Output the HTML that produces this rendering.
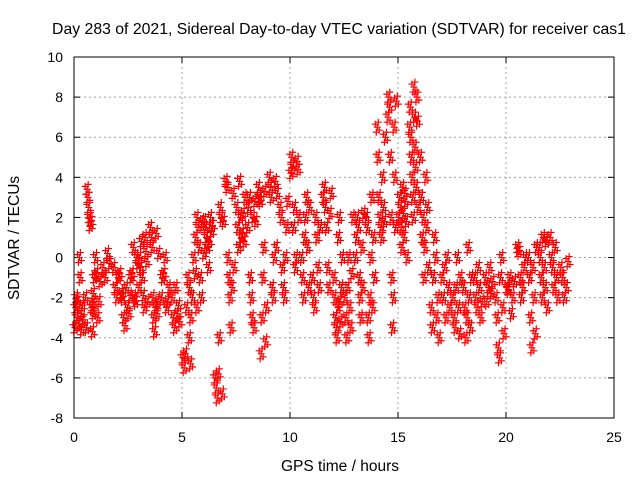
<!DOCTYPE html>
<html><head><meta charset="utf-8"><style>
body{margin:0;background:#fff;}
svg{display:block;font-family:"Liberation Sans",sans-serif;}
</style></head><body>
<svg id="chart" width="640" height="480" viewBox="0 0 640 480">
<rect width="640" height="480" fill="#fff"/>
<text x="339" y="34" font-size="15.8" text-anchor="middle">Day 283 of 2021, Sidereal Day-to-day VTEC variation (SDTVAR) for receiver cas1</text>
<text transform="translate(19,238) rotate(-90)" font-size="15.5" text-anchor="middle">SDTVAR / TECUs</text>
<text x="340" y="471" font-size="15.5" text-anchor="middle">GPS time / hours</text>
<g id="grid"></g><g id="ticks"></g><g id="marks"></g>
<rect x="74" y="57" width="540" height="361" fill="none" stroke="#000" stroke-width="1"/>
</svg>
<script>
const xTicks=[0,5,10,15,20,25];
const yTicks=[-8,-6,-4,-2,0,2,4,6,8,10];
const hours=[0,0.5,0.8,1.3,1.8,2.2,2.6,3,3.5,4,4.5,5,5.3,5.6,6,6.5,7,7.5,8,8.5,9,9.5,10,10.5,11,11.5,12,12.5,13,13.5,14,14.5,15,15.5,16,16.5,17,17.5,18,18.5,19,19.5,20,20.5,21,21.5,22,22.5];
const sdtvar=[
[-3.5,-2.5,-2,-3,-2.2,-3.3,0,-1,-2.8,-3.6,-2.4,-3.1],
[-2,-3.5,3.4,3,2.5,2,1.6,1.8,-2.5,-3.7,-2.8,-2.2],
[-2.5,-1.8,-1,0,-0.8,-3,-2.2,-1.2],
[-0.5,-1,0.2,-0.3],
[-0.5,-1.5,-2,-1,-0.8,-1.8],
[-2,-3,-3.4,-1.5,-2.5,-2.8,-1.9],
[-1,-0.8,0.5,-2,-2.2,0,-0.3,-1.5],
[0,-0.5,0.8,-1,-1.9,-2.5,1,0.3,-0.2,-2.2],
[1.5,1,0.5,-2,-3,-3.7,-2.5,1.2,-2.8,-2.2,0.2],
[-2,-1,-0.8,0,-2.5,-2.2,-1.5],
[-2,-3,-3.5,-1.5,-2.8,-2.4,-3.2],
[-5,-5.5,-4.8,-2.5,-1,-4,-5.3],
[-1.5,-3,-2,0,-0.8,-2.5],
[1,2,1.5,0.5,-1,-2,1.8,0.2],
[1.8,1.5,1,0.5,-0.5,0.8,2,1.3,1.6],
[-6,-6.5,-7,-5.8,-4,2.5,2,-6.8,1.8],
[3.8,3.5,0,-1,-2,-3.5,-1.5,3.2,-0.5],
[2.5,1.5,0.5,3.8,2,1,1.2,2.2,0.8,3],
[1.5,2.5,3,-1,-2,-3,2,-3.5,2.8,1.8],
[3.5,3,2.8,-4.8,-3,-1,0.5,3.3,-4.2,-2.5],
[4,3.5,3,-1.5,-2,0,3.8,0.5,3.2],
[2.5,2,-0.5,-1.5,-2,0,1.5,2.8],
[4.2,5,4.5,1.5,2.5,-0.5,0,4.8,4.4,2],
[0,-1,-2,1,2,3,0.5,-1.5,2.5],
[-1,-2,-2.5,2,1,-0.5,-1.5,1.5],
[3,3.5,2.5,1.5,-0.5,-1.5,2.2,3.2],
[-1,-2,-3,-3.5,-4,-2.5,1,2,-2.2,-3.2,-1.5,0],
[-2,-3,-4,-1.5,0,-2.5,-3.5,-0.8,2],
[0,1,2,1.5,-1,-2,-3,0.5,-1.5,2.2],
[2,1.5,-3,-4,-2,0,3,-2.5,1,-1],
[6.5,5,3,2,1.5,1,4,2.5,1.8,6],
[7,8,7.5,5,2,-1,-3.5,-2,6.5,4,1.5,7.8],
[2,3,2.5,1.5,0.5,3.5,2.2,1,3.2,2.8,1.8,0],
[6.5,7.5,6,5,4,3,2,8.5,7,5.5,4.5,3.5,8,6.8,2.5],
[5,3,1,2,-1,0.5,4,1.5,2.5,-0.5],
[-2.5,-3.5,-1,1,0,-3,-2,-4],
[-1,-2,-0.5,-3,0,-1.5,-2.5],
[-2,-3,-3.5,-1.5,0,-2.5,-3.8,-1],
[-1.5,-2.5,-4,-3,0.5,-2,-3.5,-1],
[-1,-2,-2.5,-0.5,-1.5,-3,-2.2],
[-1,-2.2,-1.5,-0.5,-1.8,-1.2],
[-2,-3,-4.5,-5,-1,0,-2.5,-3.8],
[-1.5,-1.6,-1,-2.8,-2,-1.2],
[0.5,0.3,-1,-2,-1.5,-0.5,0],
[0,-1,-3,-4.5,-0.5,-2,-3.8,0.5],
[0.5,0,-1,-2,1,-0.5,-1.5,0.8,-2.5],
[1,0,-0.5,-1.5,0.5,-1,-2],
[-0.5,-1,-2,-1.5,-0.2]
];
const X=t=>74+t*540/25, Y=v=>418-(v+8)*361/18;
const NS="http://www.w3.org/2000/svg";
const grid=document.getElementById('grid'),ticks=document.getElementById('ticks'),marks=document.getElementById('marks');
function mk(tag,a,parent){const e=document.createElementNS(NS,tag);for(const k in a)e.setAttribute(k,a[k]);parent.appendChild(e);return e;}
xTicks.forEach(t=>{
  if(t>0&&t<25){const g=mk('line',{x1:X(t),x2:X(t),y1:57,y2:418,stroke:'#a0a0a0','stroke-dasharray':'2,3'},grid);
  
  }
  mk('line',{x1:X(t),x2:X(t),y1:418,y2:412,stroke:'#000'},ticks);
  mk('line',{x1:X(t),x2:X(t),y1:57,y2:63,stroke:'#000'},ticks);
  const l=mk('text',{x:X(t),y:442,'font-size':14,'text-anchor':'middle'},ticks);l.textContent=t;
  
  
});
yTicks.forEach(v=>{
  if(v>-8&&v<10){const g=mk('line',{x1:74,x2:614,y1:Y(v),y2:Y(v),stroke:'#a0a0a0','stroke-dasharray':'2,3'},grid);
  
  }
  mk('line',{x1:74,x2:80,y1:Y(v),y2:Y(v),stroke:'#000'},ticks);
  mk('line',{x1:614,x2:608,y1:Y(v),y2:Y(v),stroke:'#000'},ticks);
  const l=mk('text',{x:63,y:Y(v)+5,'font-size':14,'text-anchor':'end'},ticks);l.textContent=v;
  
  
});
const offs=[[0,0],[2,3],[-2,-3],[1,-5],[-1,5]];
hours.forEach((h,i)=>{
  const vals=sdtvar[i],n=vals.length;
  vals.forEach((v,j)=>{
    const t=h+0.04+0.42*j/n;
    const x=X(t),y=Y(v);
    let d='';
    offs.forEach(o=>{d+=`M${x+o[0]-3.5},${y+o[1]}h7M${x+o[0]},${y+o[1]-3.5}v7`;});
    const p=mk('path',{d:d,stroke:'#ff0000','stroke-width':1.2,fill:'none'},marks);
    
    
  });
});
</script>
</body></html>
